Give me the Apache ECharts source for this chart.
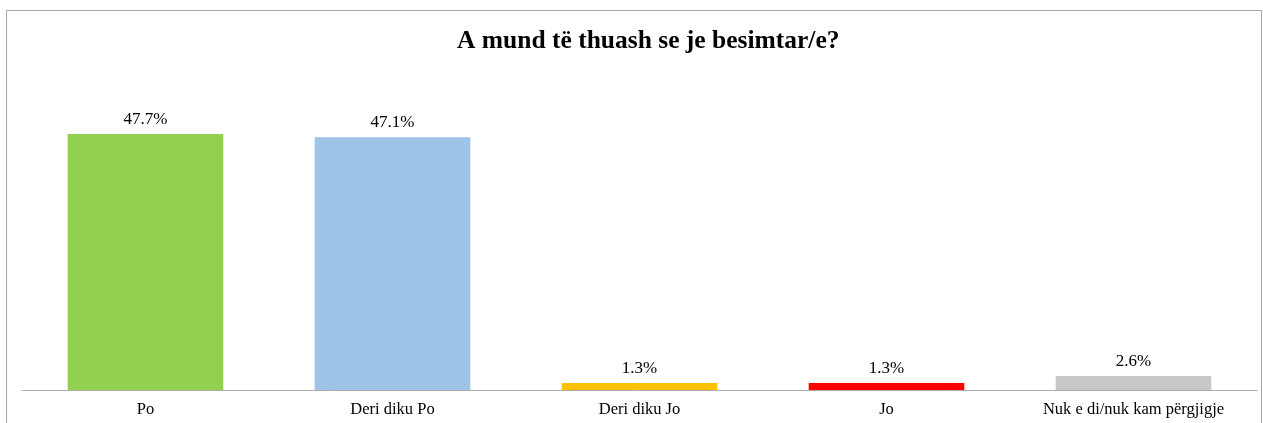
<!DOCTYPE html>
<html>
<head>
<meta charset="utf-8">
<script src="https://cdn.jsdelivr.net/npm/echarts@6/dist/echarts.min.js"></script>
<style>
    html, body { margin: 0; padding: 0; background: #fff; }
    #chart { width: 1263px; height: 423px; }
</style>
</head>
<body>
<div id="chart"></div>
<script>
var categories = ['Po', 'Deri diku Po', 'Deri diku Jo', 'Jo', 'Nuk e di/nuk kam përgjigje'];
var values = [47.7, 47.1, 1.3, 1.3, 2.6];
var barColors = ['#92D050', '#9DC3E6', '#FFC000', '#FF0000', '#C8C8C8'];

var myChart = echarts.init(document.getElementById('chart'));

var seriesData = values.map(function (v, i) {
    return {value: v, itemStyle: {color: barColors[i]}};
});

var option = {
    animation: false,
    textStyle: {fontFamily: 'Liberation Serif, Times New Roman, serif'},
    title: {
        text: 'A mund të thuash se je besimtar/e?',
        left: 452,
        top: 23,
        textStyle: {
            fontFamily: 'Liberation Serif, Times New Roman, serif',
            fontSize: 25.5,
            fontWeight: 'bold',
            color: '#000'
        }
    },
    graphic: [{
        type: 'rect',
        shape: {x: 6.5, y: 10.5, width: 1255, height: 430},
        style: {fill: 'none', stroke: '#A6A6A6', lineWidth: 1},
        silent: true
    }],
    grid: {left: 22, right: 6, top: 68, bottom: 33},
    xAxis: {
        type: 'category',
        data: categories,
        axisLine: {lineStyle: {color: '#ABABAB', width: 1}},
        axisTick: {show: false},
        axisLabel: {
            color: '#000',
            fontSize: 16.5,
            margin: 11,
            fontFamily: 'Liberation Serif, Times New Roman, serif',
            interval: 0
        }
    },
    yAxis: {
        type: 'value',
        min: 0,
        max: 60,
        show: false,
        splitLine: {show: false}
    },
    series: [{
        type: 'bar',
        data: seriesData,
        barCategoryGap: '37%',
        label: {
            show: true,
            position: 'top',
            distance: 6,
            color: '#000',
            fontSize: 17,
            fontFamily: 'Liberation Serif, Times New Roman, serif',
            formatter: function (p) {
                return p.value.toFixed(1) + '%';
            }
        }
    }]
};
myChart.setOption(option);
</script>
</body>
</html>
